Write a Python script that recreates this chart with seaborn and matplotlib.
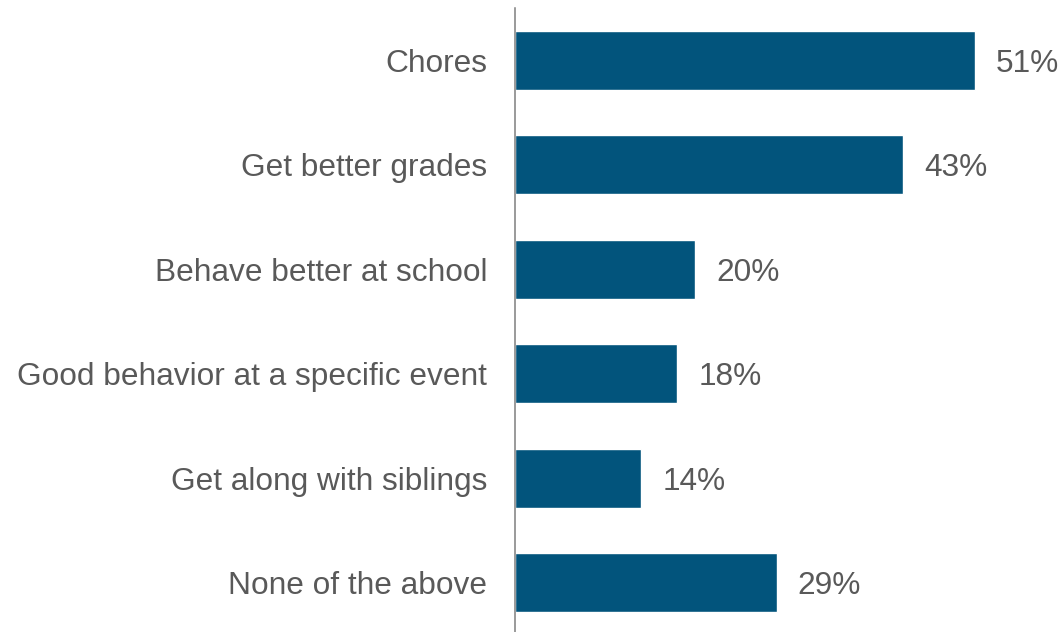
import matplotlib
matplotlib.use("Agg")
import matplotlib.pyplot as plt
import seaborn as sns
import pandas as pd

categories = [
    "Chores",
    "Get better grades",
    "Behave better at school",
    "Good behavior at a specific event",
    "Get along with siblings",
    "None of the above",
]
values = [51, 43, 20, 18, 14, 29]
value_labels = ["51%", "43%", "20%", "18%", "14%", "29%"]

bar_color = "#02547C"
text_color = "#595959"

sns.set_theme(style="white")
plt.rcParams["font.family"] = ["Liberation Sans", "DejaVu Sans"]

df = pd.DataFrame({"category": categories, "value": values})

fig = plt.figure(figsize=(10.62, 6.32), dpi=100)
ax = fig.add_axes([515 / 1062, -3 / 632, 1 - 515 / 1062, 627 / 632])

sns.barplot(data=df, y="category", x="value", orient="h", color=bar_color,
            width=0.56, saturation=1, ax=ax)

ax.set_xlim(0, 547 / 9.02)
ax.set_ylim(len(categories) - 0.5, -0.5)

for i, (v, lab) in enumerate(zip(values, value_labels)):
    ax.annotate(lab, xy=(v, i), xytext=(21, 0), textcoords="offset pixels",
                va="center_baseline", ha="left", fontsize=22.8, color=text_color)

ax.set_xlabel("")
ax.set_ylabel("")
ax.set_xticks([])
ax.tick_params(axis="y", length=0, pad=20, labelsize=22.8, labelcolor=text_color)
for t in ax.get_yticklabels():
    t.set_verticalalignment("center_baseline")
for side in ["top", "right", "bottom"]:
    ax.spines[side].set_visible(False)
ax.spines["left"].set_color("#7f7f7f")
ax.spines["left"].set_linewidth(1.1)

fig.savefig("out.png", dpi=100)
